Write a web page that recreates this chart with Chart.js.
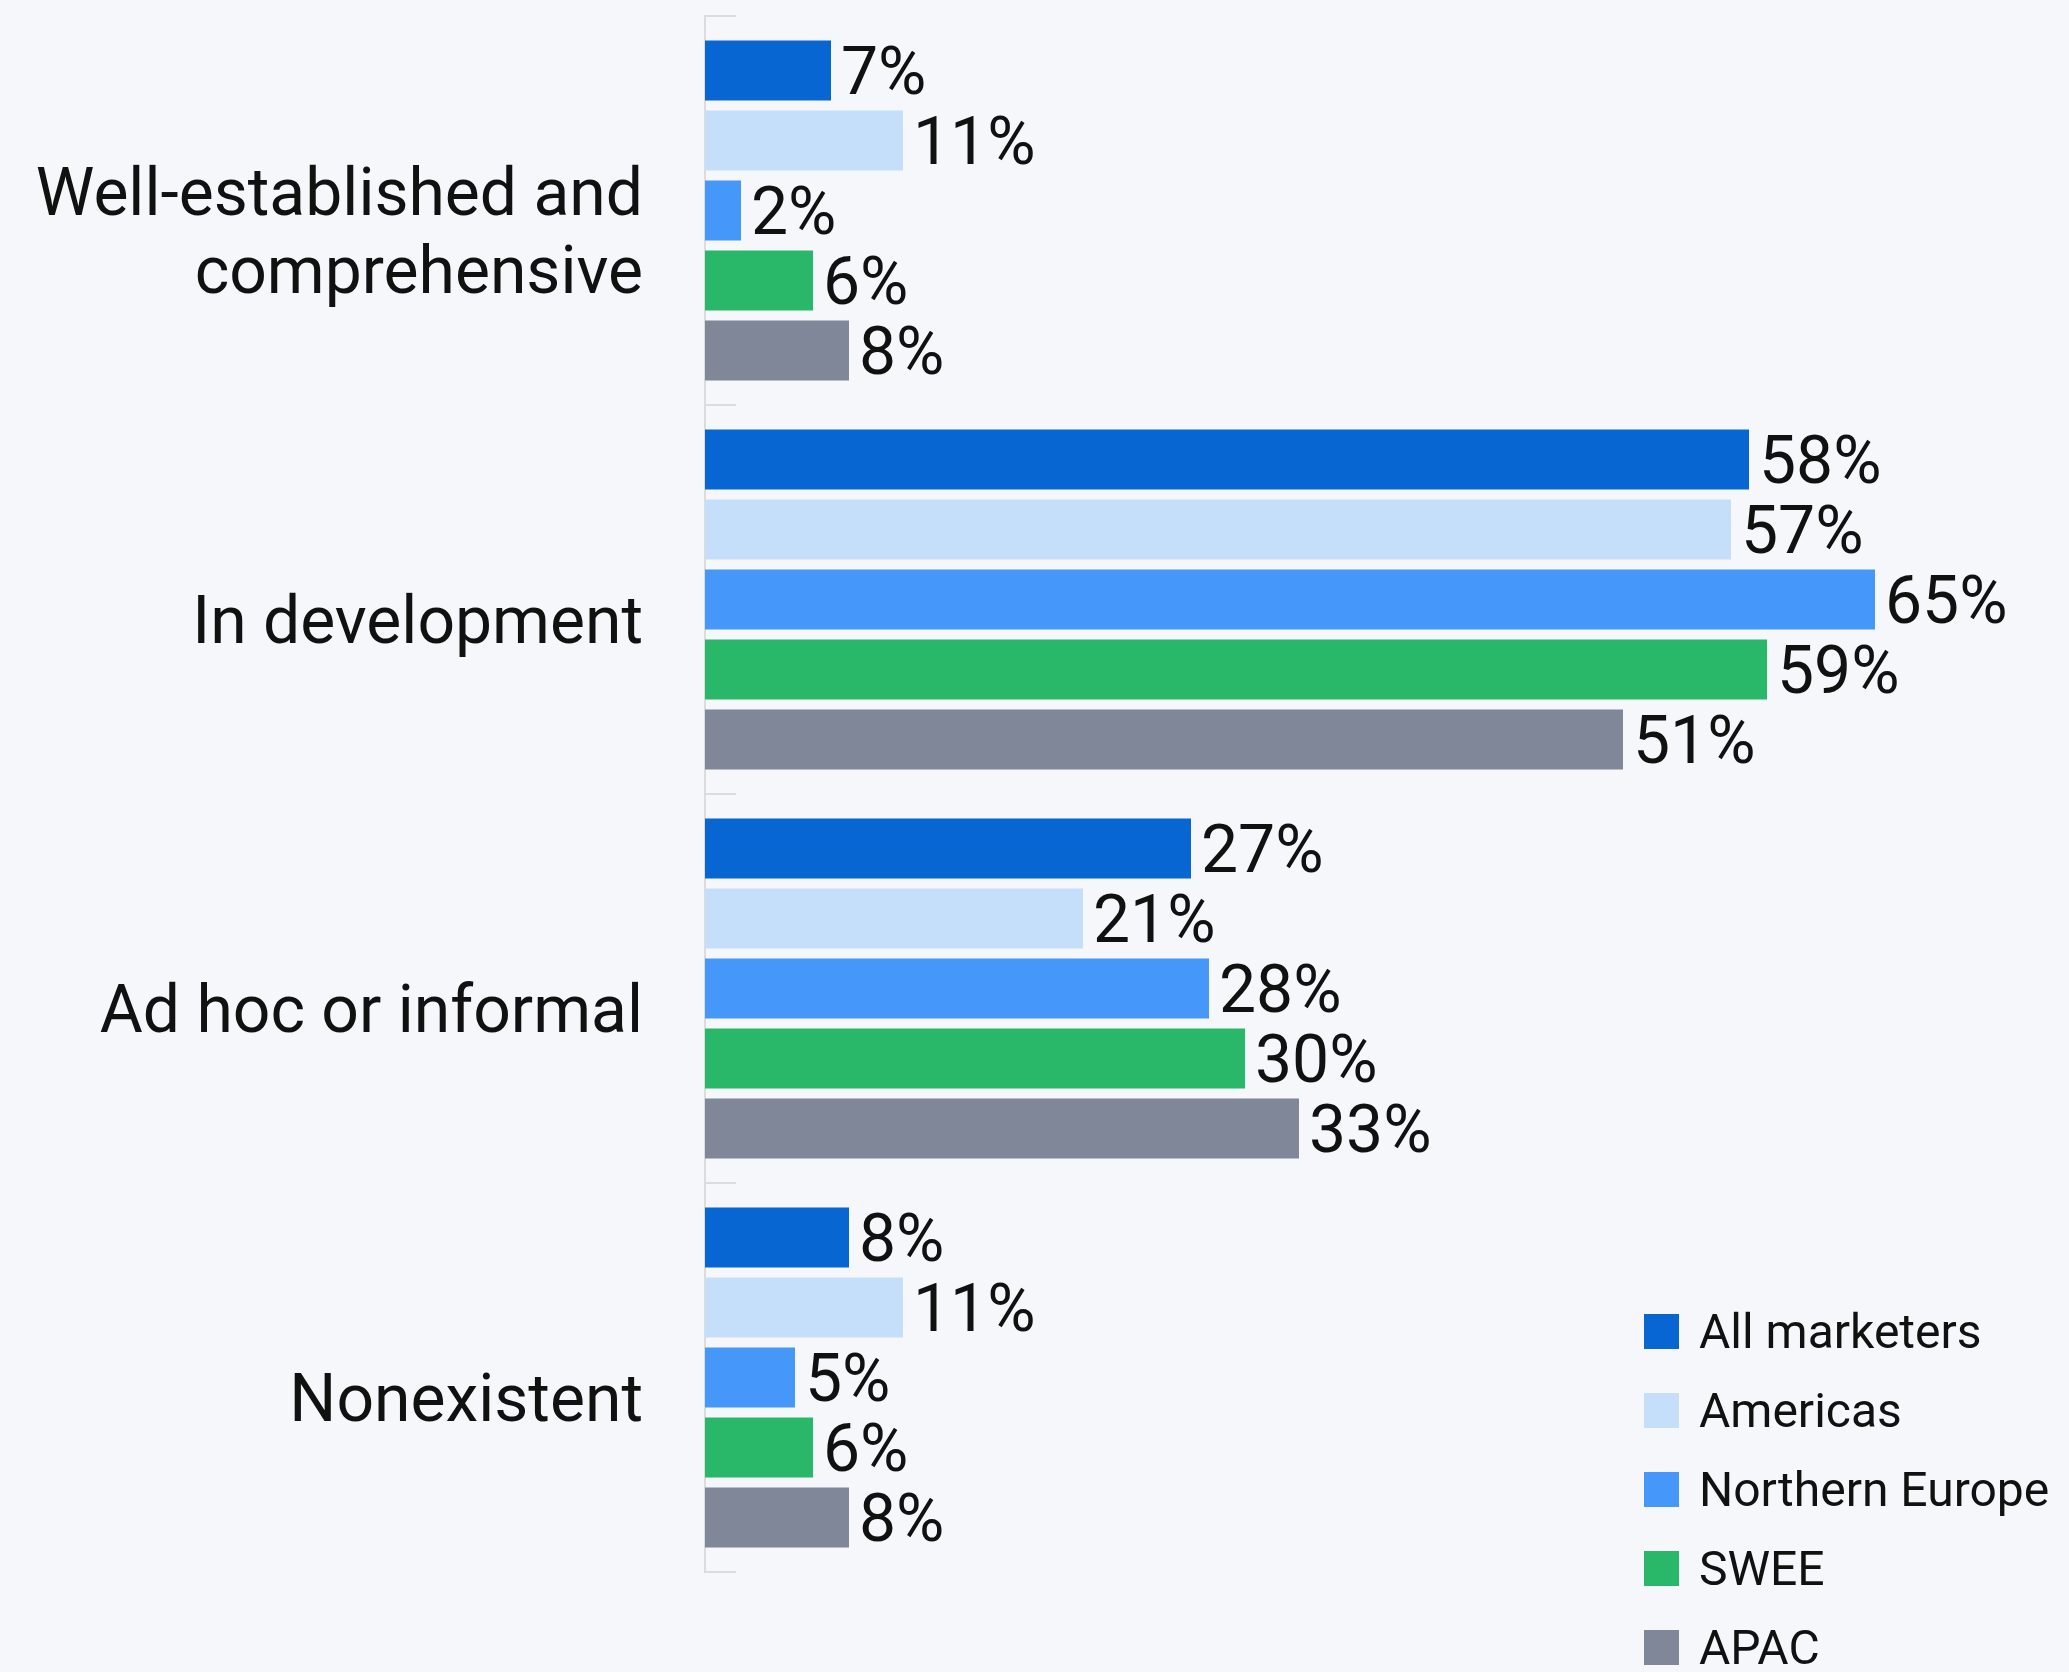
<!DOCTYPE html>
<html>
<head>
<meta charset="utf-8">
<script src="https://cdn.jsdelivr.net/npm/chart.js@4"></script>
<style>
    html, body { margin: 0; padding: 0; background: #f5f7fa; }
    #wrap { position: relative; width: 2069px; height: 1672px; overflow: hidden; }
    #legend { position: absolute; left: 1644px; top: 1314px; font-family: Roboto, sans-serif; font-size: 48px; color: #111; }
    .item { display: flex; align-items: center; height: 35px; line-height: 35px; margin-bottom: 44px; white-space: nowrap; }
    .swatch { width: 35px; height: 35px; margin-right: 20px; flex: none; }
</style>
</head>
<body>
<div id="wrap">
    <canvas id="chart"></canvas>
    <div id="legend"></div>
</div>
<script>
const categories = [
    ['Well-established and', 'comprehensive'],
    'In development',
    'Ad hoc or informal',
    'Nonexistent'
];
const seriesNames = ['All marketers', 'Americas', 'Northern Europe', 'SWEE', 'APAC'];
const seriesColors = ['#0866d2', '#c5dffb', '#4598fa', '#29b86a', '#7f8799'];

const allMarketers = [7, 58, 27, 8];
const americas = [11, 57, 21, 11];
const northernEurope = [2, 65, 28, 5];
const swee = [6, 59, 30, 6];
const apac = [8, 51, 33, 8];

const seriesValues = [allMarketers, americas, northernEurope, swee, apac];

const FONT = 'Roboto, sans-serif';
const LABEL_SIZE = 66;

// percent labels at the end of each bar
const valueLabels = {
    id: 'valueLabels',
    afterDatasetsDraw(chart) {
        const ctx = chart.ctx;
        ctx.save();
        ctx.font = LABEL_SIZE + 'px ' + FONT;
        ctx.fillStyle = '#111';
        ctx.textAlign = 'left';
        ctx.textBaseline = 'alphabetic';
        chart.data.datasets.forEach((ds, i) => {
            chart.getDatasetMeta(i).data.forEach((bar, j) => {
                ctx.fillText(ds.data[j] + '%', bar.x + 10, bar.y + LABEL_SIZE * 0.355);
            });
        });
        ctx.restore();
    }
};

new Chart(document.getElementById('chart'), {
    type: 'bar',
    data: {
        labels: categories,
        datasets: seriesNames.map((name, i) => ({
            label: name,
            data: seriesValues[i],
            backgroundColor: seriesColors[i],
            borderWidth: 0,
            categoryPercentage: 0.9,
            barPercentage: 0.857
        }))
    },
    options: {
        indexAxis: 'y',
        responsive: true,
        maintainAspectRatio: false,
        animation: false,
        layout: { padding: { top: 16, right: 14, bottom: 100, left: 0 } },
        scales: {
            x: {
                display: false,
                min: 0,
                max: 75
            },
            y: {
                afterFit(scale) {
                    scale.width = 705;
                    scale.paddingTop = 0;
                    scale.paddingBottom = 0;
                },
                border: { display: true, color: '#dcdcdc', width: 2 },
                grid: {
                    drawOnChartArea: false,
                    color: '#dcdcdc',
                    lineWidth: 2,
                    // negative length puts the short marks inside the plot
                    tickLength: -31
                },
                ticks: {
                    color: '#111',
                    padding: 93,
                    labelOffset: 27,
                    font: { family: FONT, size: LABEL_SIZE, lineHeight: 1.18 }
                }
            }
        },
        plugins: {
            legend: { display: false },
            tooltip: { enabled: false }
        }
    },
    plugins: [valueLabels]
});

// legend built from the same series lists
const legendEl = document.getElementById('legend');
seriesNames.forEach((name, i) => {
    const row = document.createElement('div');
    row.className = 'item';
    const sw = document.createElement('span');
    sw.className = 'swatch';
    sw.style.background = seriesColors[i];
    const txt = document.createElement('span');
    txt.textContent = name;
    row.appendChild(sw);
    row.appendChild(txt);
    legendEl.appendChild(row);
});
</script>
</body>
</html>
